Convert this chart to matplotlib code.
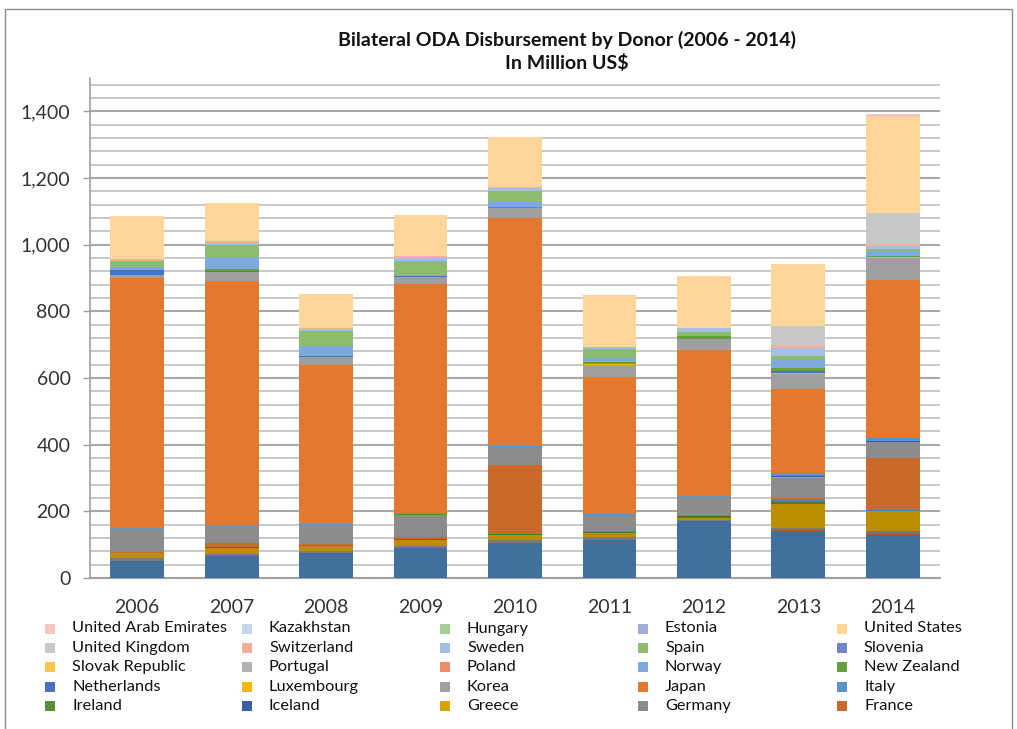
import numpy as np
import matplotlib
matplotlib.use("Agg")
import matplotlib.pyplot as plt
from matplotlib.patches import Rectangle

plt.rcParams['font.family'] = ['Lato', 'DejaVu Sans']

# data (million US$)
years = ["2006", "2007", "2008", "2009", "2010", "2011", "2012", "2013", "2014"]

australia      = [51, 66, 74, 91, 104, 114, 172, 142, 129]
austria        = [0, 0, 0, 0, 0, 0, 0, 3, 5]
belgium        = [10, 6, 8, 6, 10, 8, 3, 4, 7]
canada         = [15, 18, 12, 18, 15, 12, 6, 73, 60]
czech_republic = [0, 0, 0, 0, 0, 0, 0, 0, 0]
denmark        = [0, 4, 0, 2, 4, 4, 4, 6, 0]
finland        = [0, 0, 0, 0, 0, 0, 0, 6, 4]
france         = [3, 10, 7, 7, 206, 3, 3, 5, 155]
germany        = [68, 55, 58, 65, 53, 48, 54, 61, 47]
greece         = [0, 0, 0, 0, 0, 0, 0, 3, 0]
iceland        = [0, 0, 0, 0, 0, 0, 0, 2, 3]
ireland        = [0, 0, 0, 2, 0, 0, 0, 2, 0]
italy          = [4, 0, 4, 3, 3, 2, 5, 5, 10]
japan          = [749, 731, 476, 687, 684, 411, 438, 254, 473]
korea          = [8, 27, 25, 22, 31, 37, 32, 47, 67]
luxembourg     = [0, 0, 0, 0, 0, 3, 0, 3, 3]
netherlands    = [15, 5, 3, 4, 0, 0, 0, 6, 0]
new_zealand    = [0, 4, 0, 0, 4, 5, 8, 9, 4]
norway         = [9, 38, 30, 0, 14, 12, 0, 24, 13]
poland         = [0, 0, 0, 0, 0, 0, 0, 0, 0]
portugal       = [0, 0, 0, 0, 0, 0, 0, 0, 0]
slovak_rep     = [0, 0, 0, 0, 0, 0, 0, 0, 0]
slovenia       = [0, 0, 0, 0, 0, 0, 2, 0, 0]
spain          = [20, 35, 43, 44, 34, 27, 12, 10, 8]
sweden         = [0, 6, 8, 10, 9, 6, 10, 25, 9]
switzerland    = [5, 5, 2, 5, 2, 0, 2, 8, 6]
united_kingdom = [0, 0, 0, 0, 0, 0, 0, 58, 93]
united_states  = [130, 114, 103, 123, 151, 154, 156, 185, 286]
estonia        = [0, 0, 0, 0, 0, 0, 0, 0, 0]
hungary        = [0, 0, 0, 0, 0, 0, 0, 0, 0]
kazakhstan     = [0, 0, 0, 0, 0, 0, 0, 0, 0]
uae            = [0, 0, 0, 0, 0, 2, 0, 2, 9]

donors = ["Australia", "Austria", "Belgium", "Canada", "Czech Republic", "Denmark",
          "Finland", "France", "Germany", "Greece", "Iceland", "Ireland", "Italy",
          "Japan", "Korea", "Luxembourg", "Netherlands", "New Zealand", "Norway",
          "Poland", "Portugal", "Slovak Republic", "Slovenia", "Spain", "Sweden",
          "Switzerland", "United Kingdom", "United States", "Estonia", "Hungary",
          "Kazakhstan", "United Arab Emirates"]
series = [australia, austria, belgium, canada, czech_republic, denmark, finland,
          france, germany, greece, iceland, ireland, italy, japan, korea,
          luxembourg, netherlands, new_zealand, norway, poland, portugal,
          slovak_rep, slovenia, spain, sweden, switzerland, united_kingdom,
          united_states, estonia, hungary, kazakhstan, uae]

colors = ["#41709C", "#B25A25", "#7A7A7A", "#BB8E00", "#2E4C8C", "#4A7A30",
          "#4C80B8", "#C96A2B", "#8C8C8C", "#D9A300", "#3B5DA6", "#578C3A",
          "#5993CA", "#E2792F", "#9F9F9F", "#F6B700", "#4A72C0", "#64A03F",
          "#7EA9DC", "#EF8B65", "#B2B2B2", "#FFC54F", "#7285C8", "#8CBC6E",
          "#A4BFE3", "#F2B19B", "#C8C8C8", "#FFD699", "#9FAED8", "#A8CC98",
          "#C5D5EC", "#F6C7BC"]

W, H = 1017, 729
fig = plt.figure(figsize=(W / 100, H / 100), dpi=100)

def fx(px):
    return px / W

def fy(py):
    return 1 - py / H

# outer chart border
fig.patches.append(Rectangle((fx(5), fy(740)), fx(1007), fy(9) - fy(740),
                             transform=fig.transFigure, fill=False,
                             edgecolor="#8C8C8C", linewidth=1.0))

ax = fig.add_axes([fx(90), fy(578), fx(940) - fx(90), fy(78) - fy(578)])

x = np.arange(len(years))
bottom = np.zeros(len(years))
for name, vals, c in zip(donors, series, colors):
    ax.bar(x, vals, width=0.57, bottom=bottom, color=c, label=name, zorder=3)
    bottom += np.array(vals)

ax.set_xlim(-0.5, len(years) - 0.5)
ax.set_ylim(0, 1500)

# gridlines every 40, darker at the labelled 200 steps
for v in range(40, 1500, 40):
    if v % 200 == 0:
        ax.axhline(v, color="#A8A8A8", linewidth=1.5, zorder=1)
    else:
        ax.axhline(v, color="#C4C4C4", linewidth=1.3, zorder=1)

ax.set_yticks(range(0, 1401, 200))
ax.set_yticklabels([f"{v:,}" for v in range(0, 1401, 200)])
ax.set_xticks(x)
ax.set_xticklabels(years)
ax.tick_params(axis="y", length=5, width=1, color="#A0A0A0", pad=9,
               labelsize=14, labelcolor="#333333")
ax.tick_params(axis="x", length=0, pad=15, labelsize=14, labelcolor="#333333")

for s in ["top", "right"]:
    ax.spines[s].set_visible(False)
ax.spines["left"].set_color("#A0A0A0")
ax.spines["bottom"].set_color("#A0A0A0")
ax.spines["left"].set_linewidth(1.2)
ax.spines["bottom"].set_linewidth(1.5)

fig.text(fx(567), fy(40), "Bilateral ODA Disbursement by Donor (2006 - 2014)",
         ha="center", va="center", fontsize=14, fontweight="bold", color="#111111")
fig.text(fx(567), fy(63), "In Million US$",
         ha="center", va="center", fontsize=14, fontweight="bold", color="#111111")

# legend: 5 columns, row-wise, reversed series order (bottom rows cut off)
legend_names = donors[::-1][:25]
legend_colors = colors[::-1][:25]
col_x = [50, 247, 445, 643, 842]
for i, (name, c) in enumerate(zip(legend_names, legend_colors)):
    r, k = divmod(i, 5)
    cx = col_x[k]
    cy = 628.5 + r * 19.4
    fig.patches.append(Rectangle((fx(cx - 5), fy(cy + 5)), fx(10), fy(0) - fy(10),
                                 transform=fig.transFigure, facecolor=c,
                                 edgecolor="none"))
    fig.text(fx(cx + 22), fy(cy), name, ha="left", va="center",
             fontsize=11.8, color="#111111")

fig.savefig("out.png", dpi=100)
